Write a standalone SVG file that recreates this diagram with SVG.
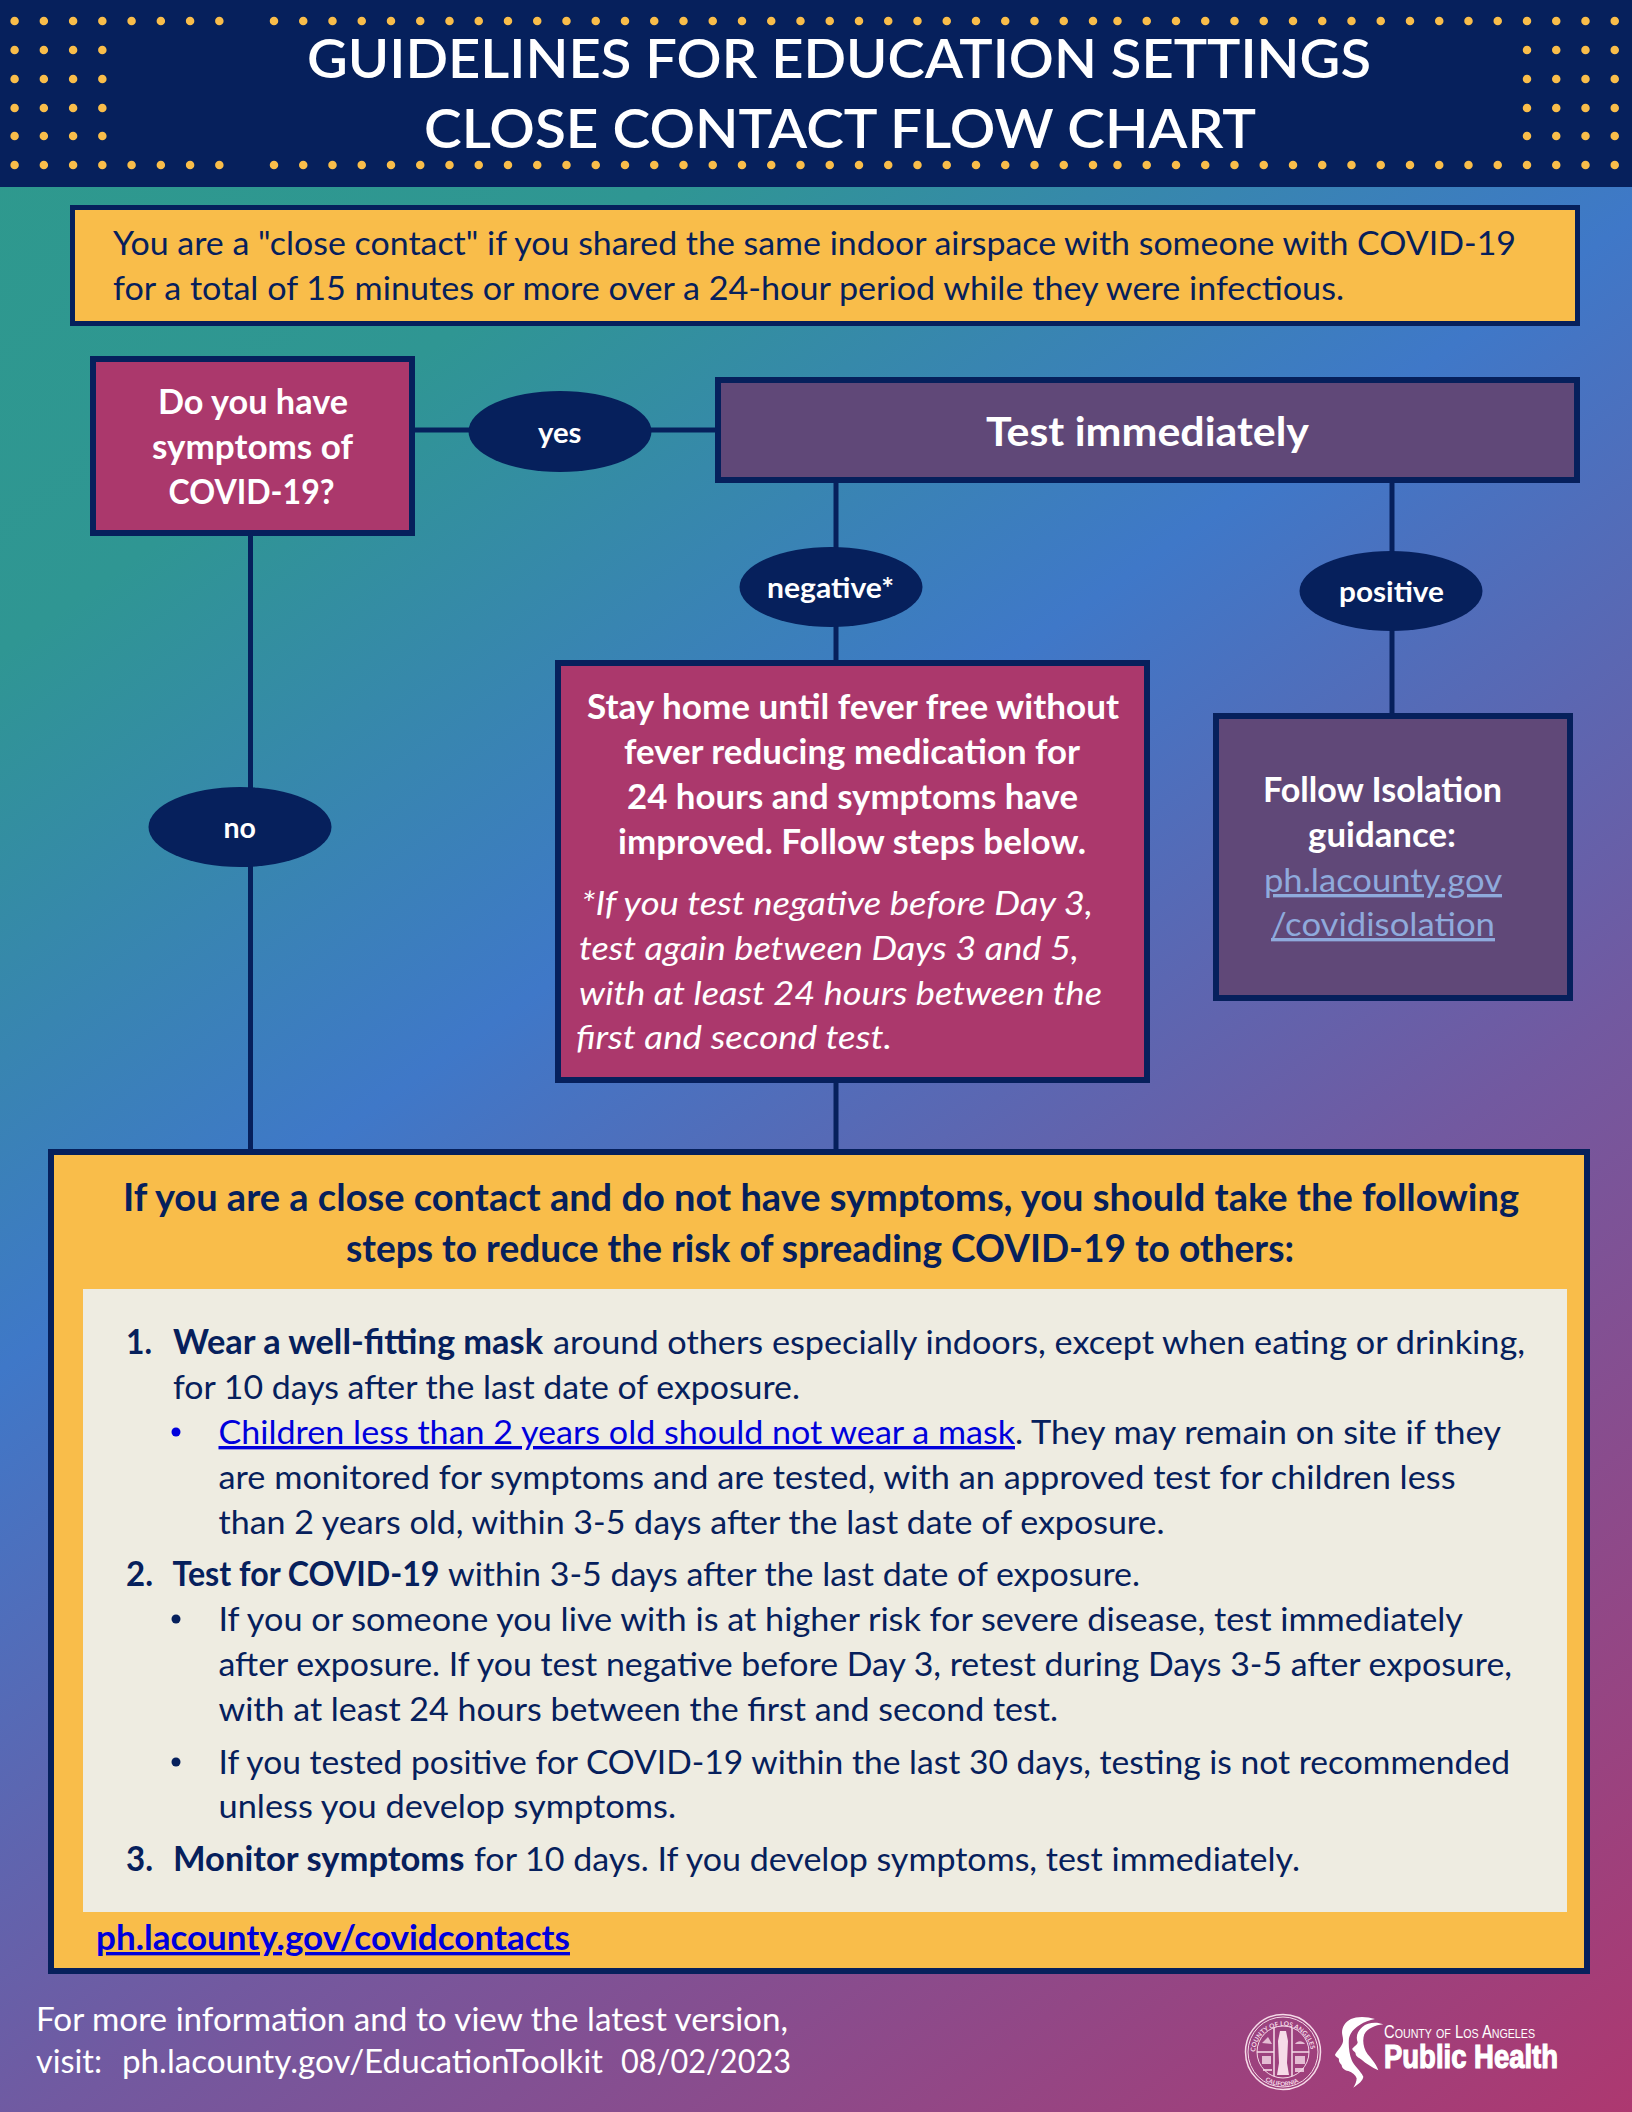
<svg xmlns="http://www.w3.org/2000/svg" xmlns:xlink="http://www.w3.org/1999/xlink" width="1632" height="2112" viewBox="0 0 1632 2112">
<style>
text{font-family:Lato,"Liberation Sans",sans-serif;font-size:33.5px;fill:#06205c}
.w{fill:#fff}
.b{font-weight:700}
.i{font-style:italic}
.u{text-decoration:underline}
.l{fill:#0000dc}
.ll{fill:#8faadc}
.box{stroke:#06205c;stroke-width:6}
.mag{fill:#ab386c}
.pur{fill:#604878}
.yel{fill:#f9bd4a}
.conn{stroke:#06205c;stroke-width:5;fill:none}
.oval{fill:#06205c}
.dot{stroke:#f9bd4a;stroke-width:8.5;stroke-linecap:round;stroke-dasharray:0 29.25;fill:none}
.lab{font-size:28px;font-weight:700;fill:#fff}
</style>
<defs>
<linearGradient id="bg" gradientUnits="userSpaceOnUse" x1="0" y1="0" x2="1536" y2="2178">
<stop offset="0" stop-color="#2e9a8c"/>
<stop offset=".2" stop-color="#2f9693"/>
<stop offset=".42" stop-color="#3f78c8"/>
<stop offset=".66" stop-color="#7259a0"/>
<stop offset="1" stop-color="#ad3870"/>
</linearGradient>
<path id="sealtop" d="M1255 2054a28 28 0 0 1 56 0"/>
<path id="sealbot" d="M1251 2054a32 32 0 0 0 64 0"/>
</defs>
<rect width="1632" height="2112" fill="url(#bg)"/>
<g id="header">
<rect width="1632" height="187" fill="#06205c"/>
<g id="dots">
<path class="dot" d="M14.6 21h234M274 21h819.1M1117.5 21h498.4M14.6 165h234M274 165h819.1M1117.5 165h498.4M14.6 50h88M14.6 79h88M14.6 108h88M14.6 136h88M1527 50h88M1527 79h88M1527 108h88M1527 136h88"/>
</g>
<text class="w" style="font-size:54px;font-weight:600" x="307" y="78" textLength="1064" lengthAdjust="spacingAndGlyphs">GUIDELINES FOR EDUCATION SETTINGS</text>
<text class="w" style="font-size:54px;font-weight:600" x="424" y="148" textLength="832" lengthAdjust="spacingAndGlyphs">CLOSE CONTACT FLOW CHART</text>
</g>
<g id="connectors">
<path class="conn" d="M415 430H715M836 483V660M1392 483V713M250.500 536V1149M836 1083V1149"/>
</g>
<g id="definition">
<rect class="yel" x="72.500" y="207.500" width="1505" height="116" stroke="#06205c" stroke-width="5"/>
<text x="113" y="255" textLength="1403" lengthAdjust="spacingAndGlyphs">You are a "close contact" if you shared the same indoor airspace with someone with COVID-19</text>
<text x="113" y="300" textLength="1231" lengthAdjust="spacingAndGlyphs">for a total of 15 minutes or more over a 24-hour period while they were infectious.</text>
</g>
<g id="node-symptoms">
<rect class="box mag" x="93" y="359" width="319" height="174"/>
<text class="w b" x="158" y="414" textLength="190" lengthAdjust="spacingAndGlyphs">Do you have</text>
<text class="w b" x="152" y="459" textLength="201" lengthAdjust="spacingAndGlyphs">symptoms of</text>
<text class="w b" x="168.500" y="504" textLength="166" lengthAdjust="spacingAndGlyphs">COVID-19?</text>
</g>
<g id="label-yes">
<ellipse class="oval" cx="560" cy="431.500" rx="91.500" ry="40.500"/>
<text class="lab" x="538" y="443" textLength="43.500" lengthAdjust="spacingAndGlyphs">yes</text>
</g>
<g id="node-test">
<rect class="box pur" x="718" y="380" width="859" height="100"/>
<text class="w b" style="font-size:40px" x="986" y="446" textLength="323" lengthAdjust="spacingAndGlyphs">Test immediately</text>
</g>
<g id="label-negative">
<ellipse class="oval" cx="831" cy="587" rx="91.500" ry="40"/>
<text class="lab" x="767" y="598" textLength="127" lengthAdjust="spacingAndGlyphs">negative*</text>
</g>
<g id="label-positive">
<ellipse class="oval" cx="1391" cy="591" rx="91.500" ry="40"/>
<text class="lab" x="1339" y="602" textLength="105" lengthAdjust="spacingAndGlyphs">positive</text>
</g>
<g id="label-no">
<ellipse class="oval" cx="240" cy="827" rx="91.500" ry="40"/>
<text class="lab" x="223.500" y="838" textLength="32.500" lengthAdjust="spacingAndGlyphs">no</text>
</g>
<g id="node-negative">
<rect class="box mag" x="558" y="663" width="589" height="417"/>
<text class="w b" x="587" y="719" textLength="532" lengthAdjust="spacingAndGlyphs">Stay home until fever free without</text>
<text class="w b" x="624" y="764" textLength="456" lengthAdjust="spacingAndGlyphs">fever reducing medication for</text>
<text class="w b" x="627" y="809" textLength="451" lengthAdjust="spacingAndGlyphs">24 hours and symptoms have</text>
<text class="w b" x="618" y="854" textLength="468" lengthAdjust="spacingAndGlyphs">improved. Follow steps below.</text>
<text class="w i" x="581" y="915" textLength="512" lengthAdjust="spacingAndGlyphs">*If you test negative before Day 3,</text>
<text class="w i" x="579" y="960" textLength="500" lengthAdjust="spacingAndGlyphs">test again between Days 3 and 5,</text>
<text class="w i" x="579" y="1005" textLength="523" lengthAdjust="spacingAndGlyphs">with at least 24 hours between the</text>
<text class="w i" x="576" y="1049" textLength="316" lengthAdjust="spacingAndGlyphs">first and second test.</text>
</g>
<g id="node-positive">
<rect class="box pur" x="1216" y="716" width="354" height="282"/>
<text class="w b" x="1263" y="802" textLength="239" lengthAdjust="spacingAndGlyphs">Follow Isolation</text>
<text class="w b" x="1308" y="847" textLength="148" lengthAdjust="spacingAndGlyphs">guidance:</text>
<text class="ll u" x="1264" y="892" textLength="238" lengthAdjust="spacingAndGlyphs">ph.lacounty.gov</text>
<text class="ll u" x="1271" y="936" textLength="224" lengthAdjust="spacingAndGlyphs">/covidisolation</text>
</g>
<g id="node-steps">
<rect class="box yel" x="51" y="1152" width="1536" height="819"/>
<rect x="83" y="1289" width="1484" height="623" fill="#eeece1"/>
<text class="b" style="font-size:38px" x="123" y="1211" textLength="1396" lengthAdjust="spacingAndGlyphs">If you are a close contact and do not have symptoms, you should take the following</text>
<text class="b" style="font-size:38px" x="346" y="1262" textLength="948" lengthAdjust="spacingAndGlyphs">steps to reduce the risk of spreading COVID-19 to others:</text>
<text class="b" x="126" y="1354" textLength="26" lengthAdjust="spacingAndGlyphs">1.</text>
<text class="b" x="173" y="1354" textLength="370" lengthAdjust="spacingAndGlyphs">Wear a well-fitting mask</text>
<text x="553" y="1354" textLength="972" lengthAdjust="spacingAndGlyphs">around others especially indoors, except when eating or drinking,</text>
<text x="173" y="1399" textLength="627" lengthAdjust="spacingAndGlyphs">for 10 days after the last date of exposure.</text>
<circle cx="176" cy="1432" r="4.500" fill="#0000dc"/>
<text class="l u" x="218.500" y="1444" textLength="796.500" lengthAdjust="spacingAndGlyphs">Children less than 2 years old should not wear a mask</text>
<text x="1015" y="1444" textLength="486" lengthAdjust="spacingAndGlyphs">. They may remain on site if they</text>
<text x="218.500" y="1489" textLength="1237" lengthAdjust="spacingAndGlyphs">are monitored for symptoms and are tested, with an approved test for children less</text>
<text x="218.500" y="1534" textLength="946" lengthAdjust="spacingAndGlyphs">than 2 years old, within 3-5 days after the last date of exposure.</text>
<text class="b" x="126" y="1586" textLength="27" lengthAdjust="spacingAndGlyphs">2.</text>
<text class="b" x="172.500" y="1586" textLength="267" lengthAdjust="spacingAndGlyphs">Test for COVID-19</text>
<text x="448" y="1586" textLength="692" lengthAdjust="spacingAndGlyphs">within 3-5 days after the last date of exposure.</text>
<circle cx="176" cy="1619" r="4.500" fill="#06205c"/>
<text x="218.500" y="1631" textLength="1244.500" lengthAdjust="spacingAndGlyphs">If you or someone you live with is at higher risk for severe disease, test immediately</text>
<text x="218.500" y="1676" textLength="1293.500" lengthAdjust="spacingAndGlyphs">after exposure. If you test negative before Day 3, retest during Days 3-5 after exposure,</text>
<text x="218.500" y="1721" textLength="839.500" lengthAdjust="spacingAndGlyphs">with at least 24 hours between the first and second test.</text>
<circle cx="176" cy="1762" r="4.500" fill="#06205c"/>
<text x="218.500" y="1774" textLength="1291.500" lengthAdjust="spacingAndGlyphs">If you tested positive for COVID-19 within the last 30 days, testing is not recommended</text>
<text x="218.500" y="1818" textLength="457.500" lengthAdjust="spacingAndGlyphs">unless you develop symptoms.</text>
<text class="b" x="126" y="1871" textLength="27" lengthAdjust="spacingAndGlyphs">3.</text>
<text class="b" x="173" y="1871" textLength="291.500" lengthAdjust="spacingAndGlyphs">Monitor symptoms</text>
<text x="474" y="1871" textLength="826" lengthAdjust="spacingAndGlyphs">for 10 days. If you develop symptoms, test immediately.</text>
<text class="l b u" x="96" y="1950" textLength="474" lengthAdjust="spacingAndGlyphs">ph.lacounty.gov/covidcontacts</text>
</g>
<g id="footer">
<text class="w" x="36" y="2031" textLength="752" lengthAdjust="spacingAndGlyphs">For more information and to view the latest version,</text>
<text class="w" x="36" y="2073" textLength="66" lengthAdjust="spacingAndGlyphs">visit:</text>
<text class="w" x="122" y="2073" textLength="481" lengthAdjust="spacingAndGlyphs">ph.lacounty.gov/EducationToolkit</text>
<text class="w" x="621" y="2073" textLength="170" lengthAdjust="spacingAndGlyphs">08/02/2023</text>
</g>
<g id="logo">
<g id="seal" fill="none" stroke="#f6dbe8">
<circle cx="1283" cy="2052" r="37.500" stroke-width="1.500"/>
<circle cx="1283" cy="2052" r="35" stroke-width="1"/>
<circle cx="1283" cy="2052" r="26" stroke-width="1"/>
<path stroke-width="1.500" d="M1274 2028V2076M1292 2028V2076M1257 2052H1274M1292 2052H1309"/>
<path fill="#f6dbe8" stroke="none" d="M1280 2031h6l2 10-1 22 2 12h-12l2-12-1-22z"/>
<path fill="#f6dbe8" stroke="none" d="M1262 2043l6-6 4 7zM1295 2044a6 6 0 0 1 10 0zM1262 2056h9v8h-9zM1295 2056h10v8h-10zM1263 2069h9v2h-9zM1295 2068h9v4h-9z" opacity=".8"/>
<text style="font-size:6.500px;font-weight:700;fill:#f6dbe8" stroke="none"><textPath xlink:href="#sealtop" startOffset="2">COUNTY OF LOS ANGELES</textPath></text>
<text style="font-size:6px;font-weight:700;fill:#f6dbe8" stroke="none"><textPath xlink:href="#sealbot" startOffset="31">CALIFORNIA</textPath></text>
</g>
<g id="faces" transform="translate(1235 2005) scale(.3333)" fill="#fff">
<path d="M420 42C395 34 365 34 348 42C328 52 318 72 322 90C324 100 326 108 322 116C314 132 302 142 300 150C302 156 310 158 312 162C310 170 316 176 320 180C320 188 328 196 340 198C352 202 362 210 365 220C365 230 360 240 355 248C372 236 384 226 385 215C376 196 356 182 350 165C342 146 340 118 342 100C348 72 380 50 420 42Z"/>
<path d="M445 58C425 50 398 52 382 66C366 80 362 96 368 112C368 120 352 128 352 132C354 140 362 140 362 146C362 154 372 158 380 164C394 176 410 186 430 196C424 178 408 160 398 148C384 128 382 104 388 88C396 72 420 60 445 58Z"/>
</g>
<text class="w" style="font-family:'Liberation Sans',sans-serif;font-size:18px;font-variant:small-caps" x="1384" y="2038" textLength="151" lengthAdjust="spacingAndGlyphs">County of Los Angeles</text>
<text class="w b" style="font-family:'Liberation Sans',sans-serif;font-size:33px;stroke:#fff;stroke-width:1.2" x="1384" y="2068" textLength="174" lengthAdjust="spacingAndGlyphs">Public Health</text>
</g>
</svg>
